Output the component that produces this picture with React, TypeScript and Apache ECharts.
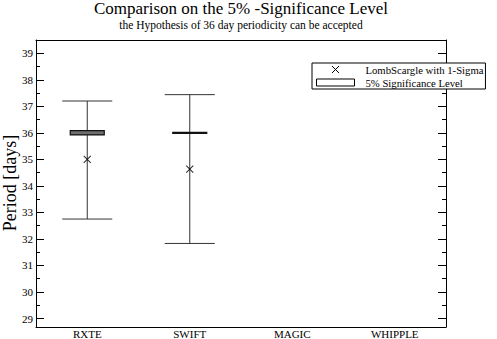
import React, { useEffect, useRef } from 'react';
import * as echarts from 'echarts';

const categories = ['RXTE', 'SWIFT', 'MAGIC', 'WHIPPLE'];
const lombPeriod = [35.0, 34.63];
const sigmaLow = [32.75, 31.83];
const sigmaHigh = [37.2, 37.44];
const levelLow = [35.92, 35.98];
const levelHigh = [36.08, 36.02];
const yMajorTicks = [29, 30, 31, 32, 33, 34, 35, 36, 37, 38, 39];
const yMinorTicks = [29.5, 30.5, 31.5, 32.5, 33.5, 34.5, 35.5, 36.5, 37.5, 38.5];
const Y_MIN = 28.68;
const Y_MAX = 39.5;

const titleText = 'Comparison on the 5% -Significance Level';
const subtitleText = 'the Hypothesis of 36 day periodicity can be accepted';
const yName = 'Period [days]';
const lombName = 'LombScargle with 1-Sigma';
const levelName = '5% Significance Level';

const FONT = '"Liberation Serif", "Times New Roman", serif';
const CROSS = 'path://M0,0L10,10M10,0L0,10';

export default function App() {
  const ref = useRef<HTMLDivElement>(null);
  useEffect(() => {
    if (!ref.current) return;
    const chart = echarts.init(ref.current, undefined, { renderer: 'svg' });
    const yBase = (position: string, ticks: number[], len: number, showLabel: boolean, showLine: boolean) => ({
      type: 'value',
      position,
      min: Y_MIN,
      max: Y_MAX,
      axisLine: { show: showLine, lineStyle: { color: '#000', width: 1 } },
      axisTick: { show: true, inside: true, length: len, customValues: ticks, lineStyle: { color: '#000', width: 1 } },
      axisLabel: {
        show: showLabel,
        customValues: yMajorTicks,
        margin: 3,
        color: '#000',
        fontFamily: FONT,
        fontSize: 11,
      },
      splitLine: { show: false },
    });
    chart.setOption({
      animation: false,
      backgroundColor: '#fff',
      grid: { left: 36, right: 51, top: 40, bottom: 12, containLabel: false, outerBoundsMode: 'none' },
      graphic: [
        {
          type: 'text',
          x: 241,
          y: 8,
          style: { text: titleText, fontFamily: FONT, fontSize: 17, fill: '#000', textAlign: 'center', textVerticalAlign: 'middle' },
        },
        {
          type: 'text',
          x: 241,
          y: 25,
          style: { text: subtitleText, fontFamily: FONT, fontSize: 11.5, fill: '#000', textAlign: 'center', textVerticalAlign: 'middle' },
        },
        {
          type: 'text',
          x: 9.5,
          y: 183,
          rotation: Math.PI / 2,
          style: { text: yName, fontFamily: FONT, fontSize: 18, lineHeight: 18, fill: '#000', textAlign: 'center', textVerticalAlign: 'middle' },
        },
      ],
      legend: {
        left: 312,
        top: 63,
        orient: 'vertical',
        backgroundColor: '#fff',
        borderColor: '#000',
        borderWidth: 1,
        borderRadius: 0,
        padding: [0, 2, 0, 4],
        itemGap: 0,
        itemWidth: 38,
        itemHeight: 7,
        z: 10,
        selectedMode: false,
        textStyle: { fontFamily: FONT, fontSize: 10.7, color: '#000', padding: [0, 0, 0, 6], lineHeight: 13 },
        data: [
          { name: lombName, icon: CROSS, itemStyle: { color: 'transparent', borderColor: '#000', borderWidth: 1 } },
          { name: levelName, icon: 'rect', itemStyle: { color: '#fff', borderColor: '#000', borderWidth: 1 } },
        ],
      },
      xAxis: [
        {
          type: 'category',
          data: categories,
          position: 'bottom',
          boundaryGap: true,
          axisLine: { lineStyle: { color: '#000', width: 1 } },
          axisTick: { inside: true, alignWithLabel: true, length: 6, lineStyle: { color: '#000' } },
          axisLabel: { margin: 1, color: '#000', fontFamily: FONT, fontSize: 11, lineHeight: 11 },
          splitLine: { show: false },
        },
        {
          type: 'category',
          data: categories,
          position: 'top',
          boundaryGap: true,
          axisLine: { lineStyle: { color: '#000', width: 1 } },
          axisTick: { inside: true, alignWithLabel: true, length: 6, lineStyle: { color: '#000' } },
          axisLabel: { show: false },
          splitLine: { show: false },
        },
      ],
      yAxis: [
        yBase('left', yMajorTicks, 8, true, true),
        yBase('left', yMinorTicks, 4, false, false),
        yBase('right', yMajorTicks, 8, false, true),
        yBase('right', yMinorTicks, 4, false, false),
      ],
      series: [
        {
          name: lombName,
          type: 'custom',
          xAxisIndex: 0,
          yAxisIndex: 0,
          encode: { x: 0, y: [1, 2] },
          data: sigmaLow.map((l, i) => [i, l, sigmaHigh[i]]),
          renderItem: (params: any, api: any) => {
            const x = api.value(0);
            const lo = api.coord([x, api.value(1)]);
            const hi = api.coord([x, api.value(2)]);
            const cap = 25;
            const st = { stroke: '#333', lineWidth: 1 };
            return {
              type: 'group',
              children: [
                { type: 'line', shape: { x1: lo[0], y1: lo[1], x2: hi[0], y2: hi[1] }, style: st },
                { type: 'line', shape: { x1: lo[0] - cap, y1: lo[1], x2: lo[0] + cap, y2: lo[1] }, style: st },
                { type: 'line', shape: { x1: hi[0] - cap, y1: hi[1], x2: hi[0] + cap, y2: hi[1] }, style: st },
              ],
            };
          },
          z: 2,
        },
        {
          name: levelName,
          type: 'custom',
          xAxisIndex: 0,
          yAxisIndex: 0,
          encode: { x: 0, y: [1, 2] },
          data: levelLow.map((l, i) => [i, l, levelHigh[i]]),
          renderItem: (params: any, api: any) => {
            const x = api.value(0);
            const lo = api.coord([x, api.value(1)]);
            const hi = api.coord([x, api.value(2)]);
            const hw = 17;
            return {
              type: 'rect',
              shape: { x: lo[0] - hw, y: hi[1], width: hw * 2, height: lo[1] - hi[1] },
              style: { fill: '#6e6e6e', stroke: '#111', lineWidth: 1.2 },
            };
          },
          z: 3,
        },
        {
          name: lombName,
          type: 'scatter',
          xAxisIndex: 0,
          yAxisIndex: 0,
          data: lombPeriod.map((v, i) => [i, v]),
          symbol: CROSS,
          symbolSize: 7,
          itemStyle: { color: 'transparent', borderColor: '#000', borderWidth: 1.1 },
          z: 4,
        },
      ],
    });
    return () => chart.dispose();
  }, []);
  return <div ref={ref} style={{ position: 'fixed', left: 0, top: 0, width: 497, height: 339 }} />;
}
